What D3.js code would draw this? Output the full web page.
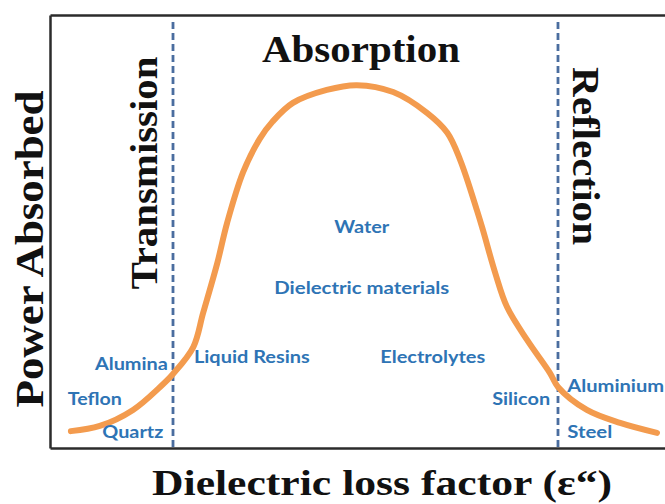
<!DOCTYPE html>
<html>
<head>
<meta charset="utf-8">
<script src="https://cdn.jsdelivr.net/npm/d3@7"></script>
<style>
  html, body { margin: 0; padding: 0; background: #fff; }
  svg { display: block; }
</style>
</head>
<body>
<svg id="chart" width="665" height="504"></svg>
<script>
// ---- data (abstract units: x = dielectric loss factor, y = power absorbed, 0..100) ----
const curveX = [3.4, 8.1, 13.5, 17.9, 20.0, 23.3, 24.9, 27.2, 28.8, 31.4, 34.1, 36.2, 39.5, 45.0, 49.9, 55.8, 61.3, 64.6, 66.7, 69.4, 70.4, 72.4, 74.3, 77.6, 81.3, 82.6, 87.3, 92.7, 98.7];
const curveY = [3.9, 5.1, 8.8, 14.1, 17.1, 23.3, 31.2, 42.7, 52.0, 63.7, 71.4, 75.4, 79.7, 82.7, 83.8, 82.2, 77.4, 72.8, 66.5, 55.0, 50.3, 40.4, 32.6, 24.9, 17.3, 14.1, 8.8, 5.8, 3.5];
const boundaries = [20.0, 82.6];
const regionNames = ["Transmission", "Absorption", "Reflection"];
const materials = ["Water", "Dielectric materials", "Liquid Resins", "Electrolytes", "Alumina", "Teflon", "Quartz", "Silicon", "Aluminium", "Steel"];
const xTitle = "Dielectric loss factor (ε“)";
const yTitle = "Power Absorbed";

// ---- layout ----
const W = 665, H = 504;
const box = { left: 50, right: 665, top: 15, bottom: 448 };
const x = d3.scaleLinear().domain([0, 100]).range([box.left, box.right]);
const y = d3.scaleLinear().domain([0, 100]).range([box.bottom, box.top]);

const svg = d3.select("#chart");

// frame: left, bottom and top lines through D3 axes without ticks
svg.append("g").attr("transform", `translate(0,${box.bottom})`)
  .call(d3.axisBottom(x).ticks(0).tickSizeOuter(0));
svg.append("g").attr("transform", `translate(0,${box.top})`)
  .call(d3.axisTop(x).ticks(0).tickSizeOuter(0));
svg.append("g").attr("transform", `translate(${box.left},0)`)
  .call(d3.axisLeft(y).ticks(0).tickSizeOuter(0));
svg.selectAll(".domain").attr("stroke", "#2b2b2b").attr("stroke-width", 2.5);

// boundaries
svg.selectAll("line.bnd").data(boundaries).join("line")
  .attr("class", "bnd")
  .attr("x1", d => x(d)).attr("x2", d => x(d))
  .attr("y1", y(98.4)).attr("y2", y(0))
  .attr("stroke", "#4a6d9f").attr("stroke-width", 2.8)
  .attr("stroke-dasharray", "7,4");

// curve
const pts = curveX.map((v, i) => [v, curveY[i]]);
svg.append("path").datum(pts)
  .attr("d", d3.line().x(d => x(d[0])).y(d => y(d[1])).curve(d3.curveCatmullRom.alpha(0.5)))
  .attr("fill", "none").attr("stroke", "#f39b4e").attr("stroke-width", 6)
  .attr("stroke-linecap", "round").attr("stroke-linejoin", "round");

// material labels (position in data units, target width px)
const matPlace = [
  { x: 50.7, y: 49.65, a: "middle", w: 55 },
  { x: 50.7, y: 35.57, a: "middle", w: 175 },
  { x: 23.4, y: 19.63, a: "start", w: 116 },
  { x: 53.7, y: 19.63, a: "start", w: 105 },
  { x: 7.3,  y: 18.01, a: "start", w: 73 },
  { x: 2.9,  y: 9.93,  a: "start", w: 54 },
  { x: 8.5,  y: 2.31,  a: "start", w: 61 },
  { x: 71.9, y: 9.93,  a: "start", w: 58 },
  { x: 84.1, y: 12.93, a: "start", w: 97 },
  { x: 84.1, y: 2.31,  a: "start", w: 45 }
];
svg.selectAll("text.mat").data(materials).join("text")
  .attr("class", "mat")
  .attr("x", (d, i) => x(matPlace[i].x))
  .attr("y", (d, i) => y(matPlace[i].y))
  .attr("text-anchor", (d, i) => matPlace[i].a)
  .attr("textLength", (d, i) => matPlace[i].w)
  .attr("lengthAdjust", "spacingAndGlyphs")
  .attr("font-family", "Lato, 'Open Sans', sans-serif")
  .attr("font-weight", "bold")
  .attr("font-size", 16.5)
  .attr("fill", "#2e74b5")
  .text(d => d);

const serif = "'Liberation Serif', 'DejaVu Serif', serif";

// region titles
svg.append("text")
  .attr("x", 361).attr("y", 62)
  .attr("text-anchor", "middle")
  .attr("textLength", 198).attr("lengthAdjust", "spacingAndGlyphs")
  .attr("font-family", serif).attr("font-weight", "bold").attr("font-size", 38)
  .attr("fill", "#111").text(regionNames[1]);

svg.append("text")
  .attr("transform", "translate(157,173) rotate(-90)")
  .attr("text-anchor", "middle")
  .attr("textLength", 233).attr("lengthAdjust", "spacingAndGlyphs")
  .attr("font-family", serif).attr("font-weight", "bold").attr("font-size", 38)
  .attr("fill", "#111").text(regionNames[0]);

svg.append("text")
  .attr("transform", "translate(573,67) rotate(90)")
  .attr("text-anchor", "start")
  .attr("textLength", 178).attr("lengthAdjust", "spacingAndGlyphs")
  .attr("font-family", serif).attr("font-weight", "bold").attr("font-size", 38)
  .attr("fill", "#111").text(regionNames[2]);

// axis titles
svg.append("text")
  .attr("transform", "translate(43,249) rotate(-90)")
  .attr("text-anchor", "middle")
  .attr("textLength", 317).attr("lengthAdjust", "spacingAndGlyphs")
  .attr("font-family", serif).attr("font-weight", "bold").attr("font-size", 39)
  .attr("fill", "#111").text(yTitle);

svg.append("text")
  .attr("x", 152).attr("y", 495)
  .attr("text-anchor", "start")
  .attr("textLength", 460).attr("lengthAdjust", "spacingAndGlyphs")
  .attr("font-family", serif).attr("font-weight", "bold").attr("font-size", 35)
  .attr("fill", "#111").text(xTitle);
</script>
</body>
</html>
